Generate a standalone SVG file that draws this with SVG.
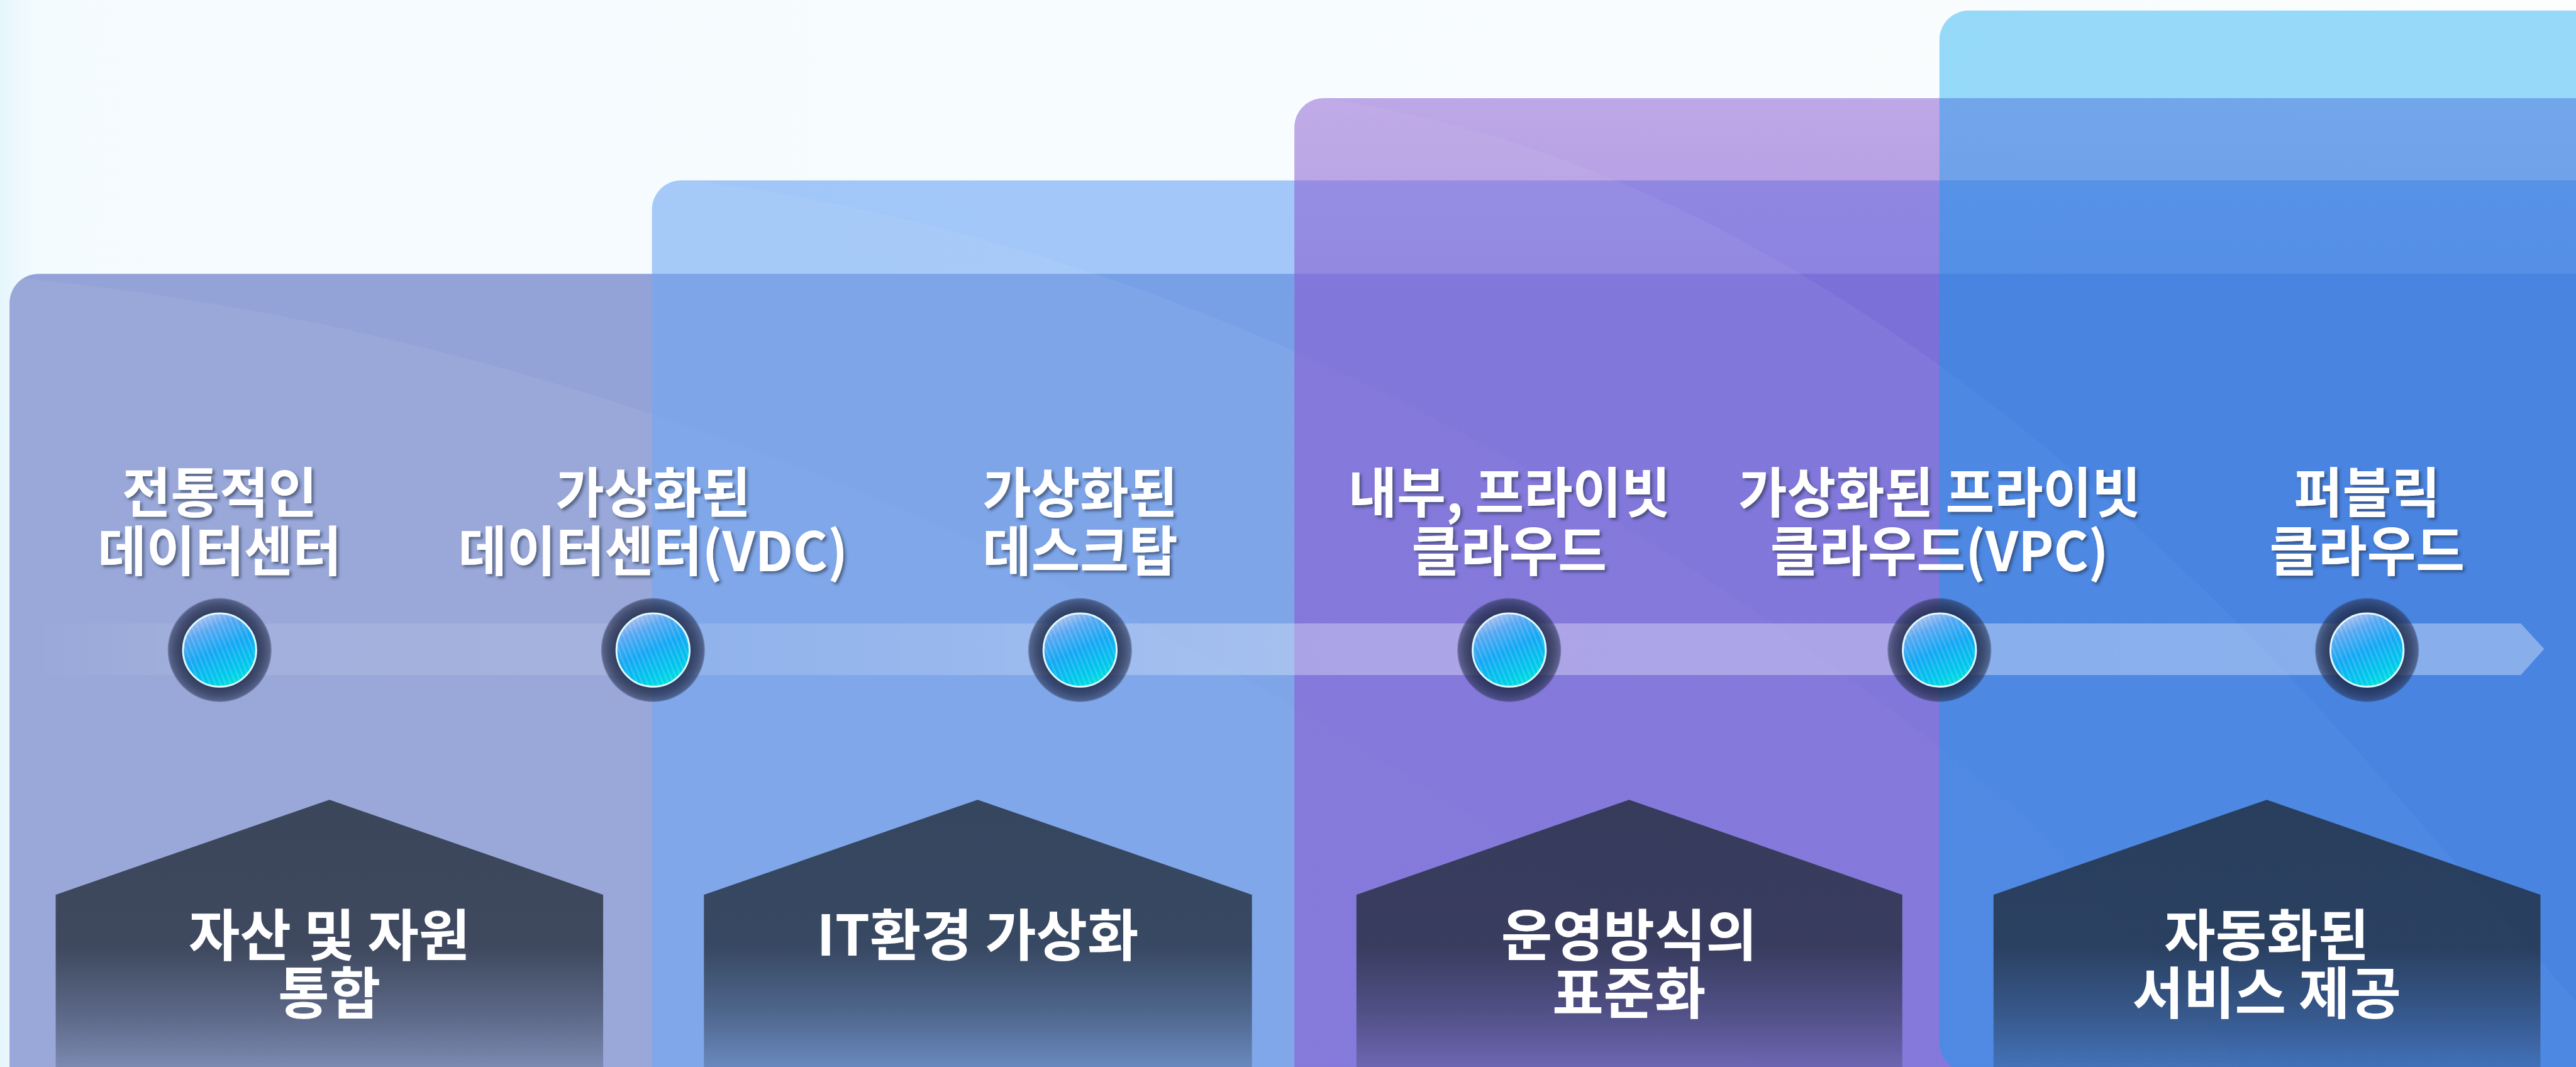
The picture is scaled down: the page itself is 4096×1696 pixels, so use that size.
<svg xmlns="http://www.w3.org/2000/svg" width="4096" height="1696" viewBox="0 0 4096 1696">
<defs>
<style>
.lbl{font-family:"Noto Sans CJK KR","Noto Sans",sans-serif;font-weight:700;font-size:100px;fill:#ffffff;text-anchor:middle;dominant-baseline:central;filter:url(#tshadow)}
.ptxt{font-family:"Noto Sans CJK KR","Noto Sans",sans-serif;font-weight:700;font-size:105px;fill:#ffffff;text-anchor:middle;dominant-baseline:central}
.ring{fill:url(#ringGrad)}
.core{fill:url(#coreGrad);stroke:#dcfbff;stroke-width:3.5}
.stripe{fill:url(#stripes)}
.house{fill:url(#houseGrad)}
.shine{fill:#ffffff;fill-opacity:0.055}
</style>
<linearGradient id="bgGrad" x1="0" y1="0" x2="1" y2="0">
<stop offset="0" stop-color="#e6f6fd"/>
<stop offset="0.015" stop-color="#f4fbfe"/>
<stop offset="1" stop-color="#fbfdfe"/>
</linearGradient>
<linearGradient id="p3Grad" gradientUnits="userSpaceOnUse" x1="0" y1="185" x2="0" y2="560">
<stop offset="0" stop-color="#7d4ccd" stop-opacity="0.48"/>
<stop offset="0.45" stop-color="#7d4ccd" stop-opacity="0.52"/>
<stop offset="1" stop-color="#7d4ccd" stop-opacity="0.57"/>
</linearGradient>
<radialGradient id="ringGrad" cx="0.5" cy="0.5" r="0.5">
<stop offset="0" stop-color="#1c2543" stop-opacity="0.88"/>
<stop offset="0.7" stop-color="#1c2543" stop-opacity="0.84"/>
<stop offset="0.86" stop-color="#222c4c" stop-opacity="0.74"/>
<stop offset="0.97" stop-color="#2a3454" stop-opacity="0.62"/>
<stop offset="1" stop-color="#2a3454" stop-opacity="0.3"/>
</radialGradient>
<linearGradient id="coreGrad" x1="0.25" y1="0" x2="0.7" y2="1">
<stop offset="0" stop-color="#bcc4ee"/>
<stop offset="0.22" stop-color="#58a8f2"/>
<stop offset="0.5" stop-color="#14a8f4"/>
<stop offset="0.8" stop-color="#00c6ec"/>
<stop offset="1" stop-color="#00e4da"/>
</linearGradient>
<pattern id="stripes" patternUnits="userSpaceOnUse" width="9" height="60" patternTransform="rotate(-22)">
<rect x="0" y="0" width="3" height="60" fill="#ffffff" fill-opacity="0.16"/>
</pattern>
<linearGradient id="houseGrad" x1="0" y1="0" x2="0" y2="1">
<stop offset="0" stop-color="#1e2733" stop-opacity="0.76"/>
<stop offset="0.55" stop-color="#1e2733" stop-opacity="0.74"/>
<stop offset="0.8" stop-color="#1e2733" stop-opacity="0.5"/>
<stop offset="1" stop-color="#1e2733" stop-opacity="0.24"/>
</linearGradient>
<linearGradient id="bandGrad" gradientUnits="userSpaceOnUse" x1="60" y1="0" x2="4800" y2="0">
<stop offset="0" stop-color="#ffffff" stop-opacity="0"/>
<stop offset="0.07" stop-color="#ffffff" stop-opacity="0.09"/>
<stop offset="0.24" stop-color="#ffffff" stop-opacity="0.12"/>
<stop offset="0.35" stop-color="#ffffff" stop-opacity="0.18"/>
<stop offset="0.52" stop-color="#ffffff" stop-opacity="0.32"/>
<stop offset="1" stop-color="#ffffff" stop-opacity="0.35"/>
</linearGradient>
<filter id="tshadow" x="-10%" y="-20%" width="120%" height="150%">
<feDropShadow dx="4" dy="4" stdDeviation="2.5" flood-color="#283048" flood-opacity="0.6"/>
</filter>
<clipPath id="clipP1"><rect x="18" y="516" width="5000" height="2000" rx="55"/></clipPath>
<clipPath id="clipP2"><rect x="1229" y="340" width="5000" height="2000" rx="55"/></clipPath>
<clipPath id="clipP3"><rect x="2440" y="185" width="5000" height="2000" rx="55"/></clipPath>
</defs>
<g transform="scale(0.8434926)">
<rect x="0" y="0" width="4856" height="2011" fill="url(#bgGrad)"/>
<g id="panel-1">
<rect x="18" y="516" width="5000" height="2000" rx="55" fill="#94a3d7"/>
<path class="shine" clip-path="url(#clipP1)" d="M58,526 Q1558,676 3058,1726 L3400,2100 L0,2100 L0,526 Z"/>
</g>
<g id="panel-2">
<rect x="1229" y="340" width="5000" height="2000" rx="55" fill="#619ef3" fill-opacity="0.57"/>
<path class="shine" clip-path="url(#clipP2)" d="M1324,343 Q2574,505 3824,1543 L4300,2100 L1200,2100 L1200,343 Z"/>
</g>
<g id="panel-3">
<rect x="2440" y="185" width="5000" height="2000" rx="55" fill="url(#p3Grad)"/>
<path class="shine" clip-path="url(#clipP3)" d="M2508,187 Q3508,337 4508,1487 L4963,2011 L2400,2011 L2400,187 Z"/>
</g>
<g id="panel-4">
<rect x="3656" y="20" width="5000" height="2000" rx="55" fill="#00a3ef" fill-opacity="0.4"/>
</g>
<g id="connectors">
<polygon points="80,1175 4752,1175 4796,1223 4752,1272 80,1272" fill="url(#bandGrad)"/>
</g>
<g id="node-1">
<circle class="ring" cx="414" cy="1225" r="98"/>
<circle class="core" cx="414" cy="1225" r="69"/>
<circle class="stripe" cx="414" cy="1225" r="67"/>
<text class="lbl" transform="translate(414,922) scale(1,1.03)">전통적인</text>
<text class="lbl" transform="translate(414,1032) scale(1,1.03)">데이터센터</text>
</g>
<g id="node-2">
<circle class="ring" cx="1231" cy="1225" r="98"/>
<circle class="core" cx="1231" cy="1225" r="69"/>
<circle class="stripe" cx="1231" cy="1225" r="67"/>
<text class="lbl" transform="translate(1231,922) scale(1,1.03)">가상화된</text>
<text class="lbl" transform="translate(1231,1032) scale(1,1.03)">데이터센터(VDC)</text>
</g>
<g id="node-3">
<circle class="ring" cx="2036" cy="1225" r="98"/>
<circle class="core" cx="2036" cy="1225" r="69"/>
<circle class="stripe" cx="2036" cy="1225" r="67"/>
<text class="lbl" transform="translate(2036,922) scale(1,1.03)">가상화된</text>
<text class="lbl" transform="translate(2036,1032) scale(1,1.03)">데스크탑</text>
</g>
<g id="node-4">
<circle class="ring" cx="2845" cy="1225" r="98"/>
<circle class="core" cx="2845" cy="1225" r="69"/>
<circle class="stripe" cx="2845" cy="1225" r="67"/>
<text class="lbl" transform="translate(2845,922) scale(1,1.03)">내부, 프라이빗</text>
<text class="lbl" transform="translate(2845,1032) scale(1,1.03)">클라우드</text>
</g>
<g id="node-5">
<circle class="ring" cx="3656" cy="1225" r="98"/>
<circle class="core" cx="3656" cy="1225" r="69"/>
<circle class="stripe" cx="3656" cy="1225" r="67"/>
<text class="lbl" transform="translate(3656,922) scale(1,1.03)">가상화된 프라이빗</text>
<text class="lbl" transform="translate(3656,1032) scale(1,1.03)">클라우드(VPC)</text>
</g>
<g id="node-6">
<circle class="ring" cx="4462" cy="1225" r="98"/>
<circle class="core" cx="4462" cy="1225" r="69"/>
<circle class="stripe" cx="4462" cy="1225" r="67"/>
<text class="lbl" transform="translate(4462,922) scale(1,1.03)">퍼블릭</text>
<text class="lbl" transform="translate(4462,1032) scale(1,1.03)">클라우드</text>
</g>
<g id="stage-1">
<path class="house" d="M105,1686 L621,1507 L1137,1686 L1137,2011 L105,2011 Z"/>
<text class="ptxt" x="621" y="1755">자산 및 자원</text>
<text class="ptxt" x="621" y="1864">통합</text>
</g>
<g id="stage-2">
<path class="house" d="M1327,1686 L1843,1507 L2360,1686 L2360,2011 L1327,2011 Z"/>
<text class="ptxt" x="1843" y="1755">IT환경 가상화</text>
</g>
<g id="stage-3">
<path class="house" d="M2557,1686 L3071,1507 L3586,1686 L3586,2011 L2557,2011 Z"/>
<text class="ptxt" x="3071" y="1755">운영방식의</text>
<text class="ptxt" x="3071" y="1864">표준화</text>
</g>
<g id="stage-4">
<path class="house" d="M3758,1686 L4273,1507 L4789,1686 L4789,2011 L3758,2011 Z"/>
<text class="ptxt" x="4273" y="1755">자동화된</text>
<text class="ptxt" x="4273" y="1864">서비스 제공</text>
</g>
</g>
</svg>
